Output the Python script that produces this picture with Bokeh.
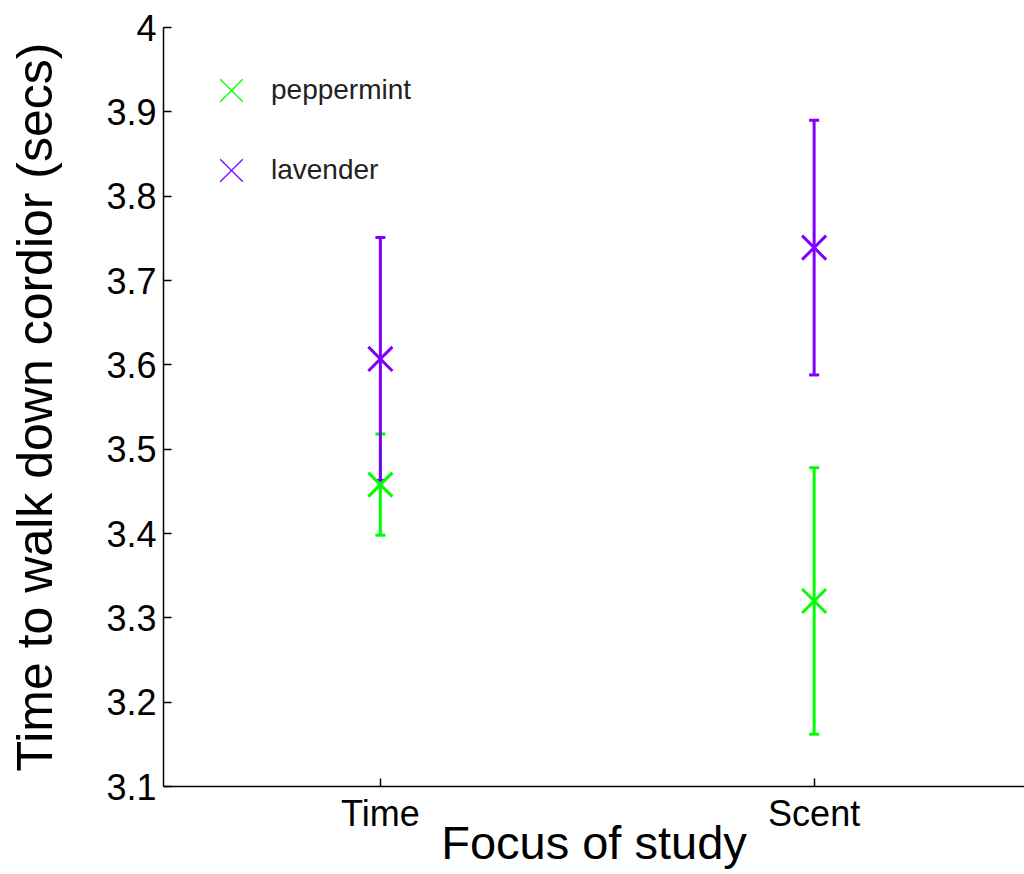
from bokeh.plotting import figure
from bokeh.models import (ColumnDataSource, Range1d, FixedTicker, NumeralTickFormatter,
                          Whisker, TeeHead, Legend, LegendItem)
from bokeh.embed import file_html
from bokeh.resources import INLINE

# ---- data ----
categories = ["Time", "Scent"]
peppermint_mean = [3.458, 3.320]
peppermint_err = [0.060, 0.158]
lavender_mean = [3.607, 3.739]
lavender_err = [0.144, 0.151]
y_ticks = [3.1, 3.2, 3.3, 3.4, 3.5, 3.6, 3.7, 3.8, 3.9, 4.0]

GREEN = "#00ff00"
PURPLE = "#7f00ff"
FONT = "Liberation Sans"

xpos = [i + 1 for i in range(len(categories))]

p = figure(width=1024, height=874, output_backend="svg", toolbar_location=None,
           x_range=Range1d(0.5, 2.485), y_range=Range1d(3.1, 4.0),
           min_border_left=163, min_border_top=27, min_border_bottom=88, min_border_right=0)
p.outline_line_color = None
p.xgrid.visible = False
p.ygrid.visible = False
p.background_fill_color = "white"
p.border_fill_color = "white"

def series(mean, err, color):
    src = ColumnDataSource(dict(
        x=xpos, y=mean,
        lower=[m - e for m, e in zip(mean, err)],
        upper=[m + e for m, e in zip(mean, err)],
    ))
    w = Whisker(source=src, base="x", lower="lower", upper="upper", dimension="height",
                line_color=color, line_width=3,
                upper_head=TeeHead(size=10, line_color=color, line_width=3),
                lower_head=TeeHead(size=10, line_color=color, line_width=3))
    p.add_layout(w)
    p.scatter("x", "y", source=src, marker="x", size=34, line_width=3, line_color=color)
    # legend-only proxy (thin marker, not drawn in the plot area)
    proxy = p.scatter(x=[float("nan")], y=[float("nan")], marker="x", size=32,
                      line_width=1.3, line_color=color)
    return proxy

lp = series(peppermint_mean, peppermint_err, GREEN)
ll = series(lavender_mean, lavender_err, PURPLE)

legend = Legend(items=[LegendItem(label="peppermint", renderers=[lp]),
                       LegendItem(label="lavender", renderers=[ll])],
                location=(28, 576), padding=0, margin=0, spacing=0,
                glyph_width=80, glyph_height=80, label_height=24, label_standoff=-6,
                label_text_font=FONT, label_text_font_size="28px", label_text_color="#222222",
                border_line_color=None, background_fill_alpha=0)
p.add_layout(legend)

# axes
p.xaxis.ticker = FixedTicker(ticks=xpos)
p.xaxis.major_label_overrides = {x: c for x, c in zip(xpos, categories)}
p.yaxis.ticker = FixedTicker(ticks=y_ticks)
p.yaxis.formatter = NumeralTickFormatter(format="0.[0]")
p.xaxis.minor_tick_line_color = None
p.yaxis.minor_tick_line_color = None

for ax in (p.xaxis[0], p.yaxis[0]):
    ax.axis_line_color = "black"
    ax.axis_line_width = 1.5
    ax.major_tick_line_color = "black"
    ax.major_tick_line_width = 1.5
    ax.major_tick_in = 8
    ax.major_tick_out = 0
    ax.major_label_text_font = FONT
    ax.major_label_text_color = "black"
    ax.axis_label_text_font = FONT
    ax.axis_label_text_font_style = "normal"
    ax.axis_label_text_color = "black"

p.xaxis.axis_label = "Focus of study"
p.yaxis.axis_label = "Time to walk down cordior (secs)"
p.xaxis.major_label_text_font_size = "36px"
p.yaxis.major_label_text_font_size = "36px"
p.xaxis.axis_label_text_font_size = "47px"
p.yaxis.axis_label_text_font_size = "50px"
p.xaxis.major_label_standoff = 6
p.yaxis.major_label_standoff = 7
p.xaxis.axis_label_standoff = -21
p.yaxis.axis_label_standoff = 40

open("out.html", "w").write(file_html(p, INLINE))
